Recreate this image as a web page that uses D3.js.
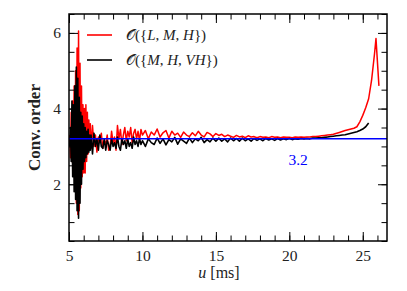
<!DOCTYPE html>
<html>
<head>
<meta charset="utf-8">
<script src="https://cdn.jsdelivr.net/npm/d3@7"></script>
<style>
  body { margin: 0; background: #fff; }
  text { font-family: "Liberation Serif", "DejaVu Serif", serif; }
</style>
</head>
<body>
<div class="container"></div>
<script>
// [u (ms), order] pairs
var redSeries = [
  [5.05,3.3],[5.10,2.7],[5.15,3.9],[5.20,2.6],[5.25,4.2],[5.30,2.3],[5.35,4.6],[5.40,1.9],[5.45,5.0],[5.50,1.5],
  [5.55,5.6],[5.60,1.2],[5.65,6.05],[5.70,1.3],[5.75,5.2],[5.80,1.9],[5.85,4.6],[5.90,2.2],[5.95,4.1],[6.00,2.3],
  [6.05,4.0],[6.10,2.3],[6.15,4.1],[6.20,2.6],[6.25,3.9],[6.30,2.8],[6.35,3.7],[6.40,2.9],[6.45,3.6],[6.50,2.95],
  [6.6,3.55],[6.7,3.0],[6.8,3.3],[6.9,2.85],[7.0,3.25],[7.1,3.1],[7.2,3.35],[7.3,2.95],[7.4,3.15],[7.5,3.05],
  [7.6,3.3],[7.7,2.9],[7.8,3.0],[7.9,3.4],[8.0,3.1],[8.1,3.25],[8.2,2.9],[8.3,3.55],[8.4,3.2],[8.5,3.45],
  [8.6,3.05],[8.7,3.3],[8.8,3.5],[8.9,3.15],[9.0,3.4],[9.1,3.25],[9.2,3.5],[9.3,3.1],[9.4,3.35],[9.5,3.45],
  [9.6,3.2],[9.7,3.4],[9.8,3.15],[9.9,3.45],[10.0,3.3],
  [10.2,3.42],[10.4,3.2],[10.6,3.38],[10.8,3.3],[11.0,3.46],[11.2,3.25],[11.4,3.36],[11.6,3.42],[11.8,3.22],[12.0,3.4],
  [12.2,3.3],[12.4,3.35],[12.6,3.24],[12.8,3.38],[13.0,3.3],[13.2,3.26],[13.4,3.36],[13.6,3.28],[13.8,3.4],[14.0,3.3],
  [14.2,3.25],[14.4,3.37],[14.6,3.33],[14.8,3.26],[15.0,3.34],[15.2,3.29],[15.4,3.32],[15.6,3.26],[15.8,3.3],[16.0,3.27],
  [16.2,3.24],[16.4,3.29],[16.6,3.25],[16.8,3.27],[17.0,3.23],[17.2,3.28],[17.4,3.25],[17.6,3.26],[17.8,3.23],[18.0,3.26],
  [18.2,3.24],[18.4,3.25],[18.6,3.23],[18.8,3.26],[19.0,3.24],[19.2,3.25],[19.4,3.23],[19.6,3.25],[19.8,3.24],[20.0,3.24],
  [20.2,3.23],[20.4,3.25],[20.6,3.24],[20.8,3.25],[21.0,3.24],[21.2,3.25],[21.4,3.25],[21.6,3.26],[21.8,3.26],[22.0,3.27],
  [22.2,3.28],[22.4,3.29],[22.6,3.3],[22.8,3.31],[23.0,3.32],[23.4,3.37],[23.8,3.42],[24.0,3.44],[24.2,3.46],[24.4,3.48],
  [24.6,3.52],[24.8,3.65],[25.0,3.82],[25.2,4.02],[25.4,4.26],[25.6,4.75],[25.8,5.45],[25.9,5.85],[26.1,4.6]
];

var blackSeries = [
  [5.05,3.0],[5.10,3.5],[5.15,2.6],[5.20,4.2],[5.25,2.2],[5.30,4.1],[5.35,1.8],[5.40,4.6],[5.45,1.6],[5.50,5.1],
  [5.55,1.3],[5.60,4.8],[5.65,1.1],[5.70,4.3],[5.75,1.5],[5.80,3.9],[5.85,2.0],[5.90,3.8],[5.95,2.4],[6.00,3.6],
  [6.05,2.6],[6.10,3.5],[6.15,2.7],[6.20,3.4],[6.25,2.8],[6.30,3.45],[6.35,2.85],[6.40,3.3],[6.45,2.9],[6.50,3.3],
  [6.6,2.8],[6.7,3.35],[6.8,3.0],[6.9,3.2],[7.0,2.9],[7.1,3.3],[7.2,3.0],[7.3,2.95],[7.4,3.2],[7.5,2.9],
  [7.6,3.15],[7.7,3.05],[7.8,2.9],[7.9,3.2],[8.0,3.0],[8.1,3.1],[8.2,2.95],[8.3,3.25],[8.4,3.0],[8.5,2.9],
  [8.6,3.2],[8.7,3.05],[8.8,3.15],[8.9,2.95],[9.0,3.2],[9.1,3.0],[9.2,3.1],[9.3,2.95],[9.4,3.25],[9.5,3.05],
  [9.6,3.15],[9.7,3.0],[9.8,3.2],[9.9,3.05],[10.0,3.15],
  [10.2,3.0],[10.4,3.2],[10.6,3.1],[10.8,3.05],[11.0,3.22],[11.2,3.08],[11.4,3.2],[11.6,3.04],[11.8,3.18],[12.0,3.12],
  [12.2,3.24],[12.4,3.06],[12.6,3.2],[12.8,3.14],[13.0,3.08],[13.2,3.22],[13.4,3.1],[13.6,3.2],[13.8,3.15],[14.0,3.24],
  [14.2,3.1],[14.4,3.18],[14.6,3.12],[14.8,3.22],[15.0,3.14],[15.2,3.22],[15.4,3.14],[15.6,3.2],[15.8,3.12],[16.0,3.22],
  [16.2,3.15],[16.4,3.21],[16.6,3.14],[16.8,3.22],[17.0,3.15],[17.2,3.2],[17.4,3.14],[17.6,3.21],[17.8,3.16],[18.0,3.2],
  [18.2,3.15],[18.4,3.21],[18.6,3.17],[18.8,3.2],[19.0,3.16],[19.2,3.21],[19.4,3.17],[19.6,3.2],[19.8,3.18],[20.0,3.21],
  [20.2,3.18],[20.4,3.2],[20.6,3.19],[20.8,3.21],[21.0,3.2],[21.2,3.21],[21.4,3.2],[21.6,3.22],[21.8,3.22],[22.0,3.23],
  [22.2,3.23],[22.4,3.24],[22.6,3.25],[22.8,3.26],[23.0,3.27],[23.2,3.28],[23.4,3.29],[23.6,3.3],[23.8,3.31],[24.0,3.33],
  [24.2,3.35],[24.4,3.37],[24.6,3.39],[24.8,3.42],[25.0,3.46],[25.2,3.52],[25.4,3.62]
];

var refOrder = 3.2;
var xMajorTicks = [5, 10, 15, 20, 25];
var xMinorTicks = [5,6,7,8,9,10,11,12,13,14,15,16,17,18,19,20,21,22,23,24,25,26];
var yMajorTicks = [2, 4, 6];
var yMinorTicks = [0.5,1,1.5,2,2.5,3,3.5,4,4.5,5,5.5,6,6.5];
var legendLabels = ["L, M, H", "M, H, VH"];

const WIDTH = 407;
const HEIGHT = 291;
const LEFT = 69, RIGHT = 387, TOP = 14, BOTTOM = 241;

var svg = d3.select(".container").append('svg')
	.attr('width', WIDTH)
	.attr('height', HEIGHT);

var xScale = d3.scaleLinear().domain([5, 26.65]).range([LEFT, RIGHT]);
var yScale = d3.scaleLinear().domain([0.5, 6.5]).range([BOTTOM, TOP]);

var line = d3.line()
	.x(function(d){ return xScale(d[0]); })
	.y(function(d){ return yScale(d[1]); });

svg.append('defs').append('clipPath').attr('id', 'plot')
	.append('rect').attr('x', LEFT).attr('y', TOP)
	.attr('width', RIGHT - LEFT).attr('height', BOTTOM - TOP);

var g = svg.append('g').attr('clip-path', 'url(#plot)');

g.append('path').attr('d', line(redSeries))
	.attr('fill', 'none').attr('stroke', '#ff0000').attr('stroke-width', 1.5)
	.attr('stroke-linejoin', 'round');

g.append('path').attr('d', line(blackSeries))
	.attr('fill', 'none').attr('stroke', '#000').attr('stroke-width', 1.6)
	.attr('stroke-linejoin', 'round');

g.append('line')
	.attr('x1', xScale(5)).attr('x2', xScale(26.65))
	.attr('y1', yScale(refOrder)).attr('y2', yScale(refOrder))
	.attr('stroke', '#0000ff').attr('stroke-width', 1.5);

svg.append('text')
	.attr('x', xScale(20.6)).attr('y', yScale(refOrder) + 26)
	.attr('text-anchor', 'middle')
	.attr('fill', '#0000ff').style('font-size', '15.5px')
	.text(refOrder.toFixed(1));

// axes: ticks point inwards on all four sides
function styleAxis(sel){
	sel.select('.domain').remove();
	sel.selectAll('.tick line').attr('stroke', '#000').attr('stroke-width', 1);
	sel.selectAll('.tick text').style('font-family', '"Liberation Serif", serif')
		.style('font-size', '15.5px').attr('fill', '#222');
}

svg.append('g').attr('transform', 'translate(0,' + BOTTOM + ')')
	.call(d3.axisBottom(xScale).tickValues(xMinorTicks).tickSize(-5.5).tickFormat(''))
	.call(styleAxis);
svg.append('g').attr('transform', 'translate(0,' + BOTTOM + ')')
	.call(d3.axisBottom(xScale).tickValues(xMajorTicks).tickSize(-9).tickPadding(9).tickFormat(d3.format('d')))
	.call(styleAxis);
svg.append('g').attr('transform', 'translate(0,' + TOP + ')')
	.call(d3.axisTop(xScale).tickValues(xMinorTicks).tickSize(-5.5).tickFormat(''))
	.call(styleAxis);
svg.append('g').attr('transform', 'translate(0,' + TOP + ')')
	.call(d3.axisTop(xScale).tickValues(xMajorTicks).tickSize(-9).tickFormat(''))
	.call(styleAxis);

svg.append('g').attr('transform', 'translate(' + LEFT + ',0)')
	.call(d3.axisLeft(yScale).tickValues(yMinorTicks).tickSize(-5.5).tickFormat(''))
	.call(styleAxis);
svg.append('g').attr('transform', 'translate(' + LEFT + ',0)')
	.call(d3.axisLeft(yScale).tickValues(yMajorTicks).tickSize(-9).tickPadding(8).tickFormat(d3.format('d')))
	.call(styleAxis);
svg.append('g').attr('transform', 'translate(' + RIGHT + ',0)')
	.call(d3.axisRight(yScale).tickValues(yMinorTicks).tickSize(-5.5).tickFormat(''))
	.call(styleAxis);
svg.append('g').attr('transform', 'translate(' + RIGHT + ',0)')
	.call(d3.axisRight(yScale).tickValues(yMajorTicks).tickSize(-9).tickFormat(''))
	.call(styleAxis);

svg.append('rect')
	.attr('x', LEFT).attr('y', TOP)
	.attr('width', RIGHT - LEFT).attr('height', BOTTOM - TOP)
	.attr('fill', 'none').attr('stroke', '#000').attr('stroke-width', 1.5);

// axis titles
var xt = svg.append('text')
	.attr('x', 219).attr('y', 278)
	.attr('text-anchor', 'middle').attr('fill', '#222')
	.style('font-size', '16px');
xt.append('tspan').style('font-style', 'italic').text('u');
xt.append('tspan').text(' [ms]');

svg.append('text')
	.attr('transform', 'translate(40,' + ((TOP + BOTTOM) / 2) + ') rotate(-90)')
	.attr('text-anchor', 'middle').attr('fill', '#222')
	.style('font-size', '17px').style('font-weight', 'bold')
	.text('Conv. order');

// legend
var legendColors = ['#ff0000', '#000'];
var legend = svg.append('g');
legendLabels.forEach(function(lab, i){
	var y = 35 + i * 25;
	legend.append('line')
		.attr('x1', 87).attr('x2', 112).attr('y1', y).attr('y2', y)
		.attr('stroke', legendColors[i]).attr('stroke-width', 1.6);
	var t = legend.append('text')
		.attr('x', 126).attr('y', y + 5)
		.attr('fill', '#222').style('font-size', '15px');
	t.append('tspan').text('\u{1D4AA}({');
	lab.split(', ').forEach(function(part, j){
		if (j > 0) t.append('tspan').text(', ');
		t.append('tspan').style('font-style', 'italic').text(part);
	});
	t.append('tspan').text('})');
});
</script>
</body>
</html>
